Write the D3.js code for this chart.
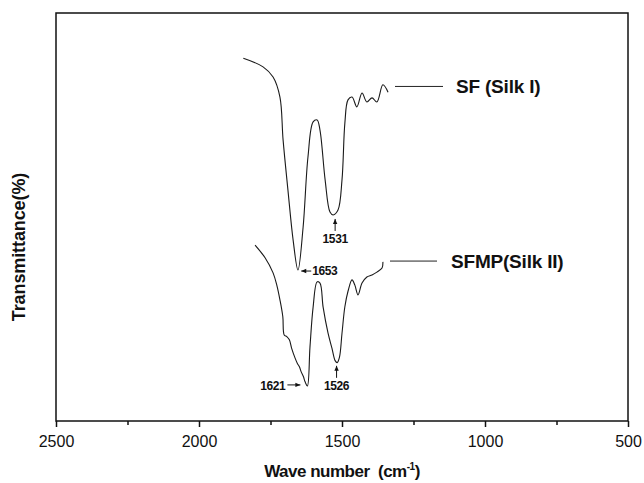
<!DOCTYPE html>
<html>
<head>
<meta charset="utf-8">
<script src="https://cdn.jsdelivr.net/npm/d3@7"></script>
<style>
  body { margin: 0; background: #fff; }
  svg { display: block; }
  text { font-family: "Liberation Sans", Arial, sans-serif; fill: #111; }
</style>
</head>
<body>
<div id="chart"></div>
<script>
// wave numbers (cm-1) and transmittance (arbitrary %)
var sfWave = [1845, 1776, 1741, 1717, 1706, 1689, 1671, 1654, 1636, 1619, 1601, 1587, 1577, 1559, 1542, 1531, 1514, 1500, 1490, 1479, 1465, 1448, 1430, 1413, 1395, 1378, 1357, 1339]
var sfT    = [88.9, 86.8, 84.3, 79.4, 68.9, 56.6, 44.4, 37.0, 47.5, 64.7, 73.3, 73.8, 71.3, 59.1, 51.2, 50.5, 51.7, 59.1, 73.0, 78.7, 79.4, 77.0, 80.4, 78.2, 79.2, 78.2, 82.4, 80.6]

var sfmpWave = [1804, 1769, 1741, 1728, 1717, 1707, 1702, 1693, 1684, 1676, 1664, 1656, 1649, 1643, 1635, 1629, 1621, 1612, 1601, 1587, 1577, 1566, 1549, 1535, 1524, 1517, 1509, 1500, 1490, 1479, 1465, 1455, 1444, 1430, 1413, 1395, 1378, 1360, 1357]
var sfmpT    = [43.1, 40.0, 36.3, 33.3, 29.7, 25.6, 21.1, 20.7, 19.9, 17.8, 15.4, 14.1, 13.3, 12.1, 10.9, 9.6, 8.6, 18.1, 27.9, 34.1, 33.8, 27.9, 21.6, 17.8, 14.8, 14.3, 15.6, 21.5, 28.0, 31.8, 34.6, 33.3, 30.9, 33.8, 35.3, 35.8, 36.5, 37.5, 39.0]

var majorTicks = [2500, 2000, 1500, 1000, 500]
var minorTicks = [2250, 1750, 1250, 750]

var seriesNames = ["SF (Silk I)", "SFMP(Silk II)"]
var legendT = [82.0, 39.2]

// peak labels: wave number, transmittance at the tip, arrow direction
var peakWave = [1653, 1531, 1621, 1526]
var peakT    = [37.0, 50.5, 8.6, 14.5]
var peakDir  = ["left", "up", "right", "up"]

var W = 644, H = 483
var margin = {left: 56, right: 16, top: 13, bottom: 62}
var width = W - margin.left - margin.right
var height = H - margin.top - margin.bottom

var svg = d3.select('#chart').append('svg')
  .attr('width', W).attr('height', H)
var g = svg.append('g').attr('transform', 'translate(' + margin.left + ',' + margin.top + ')')

var x = d3.scaleLinear().domain([2500, 500]).range([0, width])
var y = d3.scaleLinear().domain([0, 100]).range([height, 0])

// frame
g.append('rect')
  .attr('width', width).attr('height', height)
  .attr('fill', 'none').attr('stroke', '#111').attr('stroke-width', 1.5)

// x axis
var xAxis = g.append('g').attr('transform', 'translate(0,' + height + ')')
  .call(d3.axisBottom(x).tickValues(majorTicks).tickSize(6).tickFormat(d3.format('d')))
xAxis.select('.domain').remove()
xAxis.selectAll('.tick line').attr('stroke', '#111').attr('stroke-width', 1.5)
xAxis.selectAll('.tick text')
  .attr('font-size', 16).attr('dy', null).attr('y', 26)
  .style('font-family', '"Liberation Sans", Arial, sans-serif').attr('fill', '#111')

var xMinor = g.append('g').attr('transform', 'translate(0,' + height + ')')
  .call(d3.axisBottom(x).tickValues(minorTicks).tickSize(4).tickFormat(''))
xMinor.select('.domain').remove()
xMinor.selectAll('.tick line').attr('stroke', '#111').attr('stroke-width', 1.5)

// axis titles
var xt = g.append('text')
  .attr('x', 286).attr('y', height + 56)
  .attr('text-anchor', 'middle').attr('font-size', 17).attr('font-weight', 'bold')
  .attr('letter-spacing', -0.5).style('white-space', 'pre')
xt.append('tspan').text('Wave number  (cm')
xt.append('tspan').text('-1').attr('font-size', 10).attr('dy', -7)
xt.append('tspan').text(')').attr('dy', 7)

svg.append('text')
  .attr('transform', 'translate(25,247) rotate(-90)')
  .attr('text-anchor', 'middle').attr('font-size', 18).attr('font-weight', 'bold')
  .attr('letter-spacing', -0.1)
  .text('Transmittance(%)')

// spectra
var line = d3.line()
  .x(function(d) { return x(d[0]) })
  .y(function(d) { return y(d[1]) })
  .curve(d3.curveCatmullRom.alpha(0.5))

var series = [d3.zip(sfWave, sfT), d3.zip(sfmpWave, sfmpT)]
series.forEach(function(s) {
  g.append('path').datum(s)
    .attr('d', line)
    .attr('fill', 'none').attr('stroke', '#1a1a1a').attr('stroke-width', 1.1)
})

// legend-like labels
seriesNames.forEach(function(name, i) {
  var ly = y(legendT[i])
  g.append('line')
    .attr('x1', 339 - (i * 5)).attr('x2', 387 - (i * 6))
    .attr('y1', ly).attr('y2', ly)
    .attr('stroke', '#222').attr('stroke-width', 1)
  g.append('text')
    .attr('x', 400 - (i * 5)).attr('y', ly + 7)
    .attr('font-size', 19).attr('font-weight', 'bold').attr('letter-spacing', -0.2)
    .text(name)
})

// peak annotations
function arrow(x1, y1, x2, y2) {
  g.append('line').attr('x1', x1).attr('y1', y1).attr('x2', x2).attr('y2', y2)
    .attr('stroke', '#111').attr('stroke-width', 1)
  var a = Math.atan2(y2 - y1, x2 - x1), L = 5, w = 2.2
  var p = [[x2, y2],
    [x2 - L * Math.cos(a) + w * Math.sin(a), y2 - L * Math.sin(a) - w * Math.cos(a)],
    [x2 - L * Math.cos(a) - w * Math.sin(a), y2 - L * Math.sin(a) + w * Math.cos(a)]]
  g.append('path').attr('d', 'M' + p.join('L') + 'Z').attr('fill', '#111')
}

peakWave.forEach(function(wv, i) {
  var px = x(wv), py = y(peakT[i])
  var t = g.append('text').attr('font-size', 12).attr('font-weight', 'bold')
    .attr('letter-spacing', -0.4).text(wv)
  if (peakDir[i] == 'left') {
    arrow(px + 13, py + 1, px + 3, py + 1)
    t.attr('x', px + 14).attr('y', py + 5)
  } else if (peakDir[i] == 'right') {
    arrow(px - 20, py - 1, px - 7, py - 1)
    t.attr('x', px - 22).attr('y', py + 4).attr('text-anchor', 'end')
  } else {
    arrow(px + 2, py + 16, px + 2, py + 4)
    t.attr('x', px + 2).attr('y', py + 28).attr('text-anchor', 'middle')
  }
})
</script>
</body>
</html>
